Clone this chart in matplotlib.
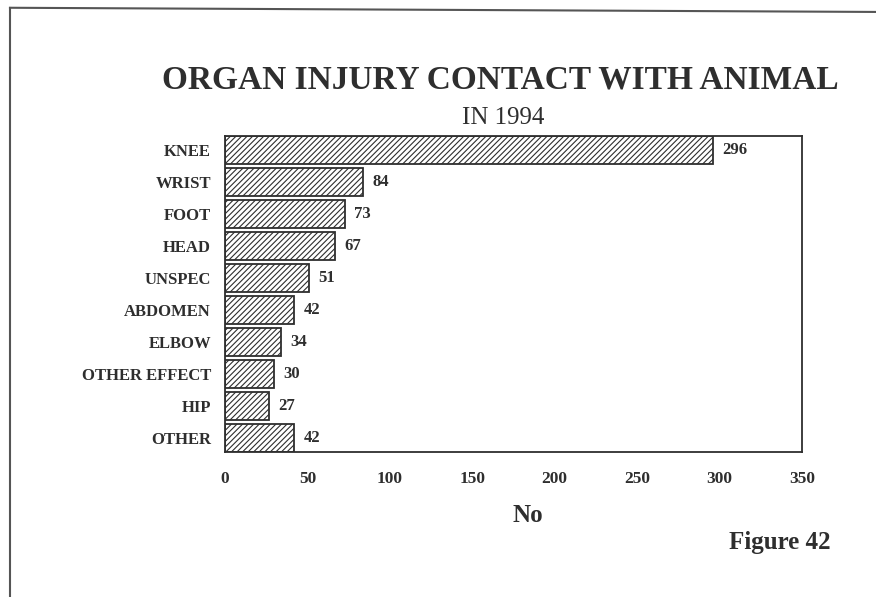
import matplotlib.pyplot as plt
import matplotlib as mpl

# injuries by organ, 1994
organs = ["KNEE", "WRIST", "FOOT", "HEAD", "UNSPEC", "ABDOMEN",
          "ELBOW", "OTHER EFFECT", "HIP", "OTHER"]
counts = [296, 84, 73, 67, 51, 42, 34, 30, 27, 42]
xticks = [0, 50, 100, 150, 200, 250, 300, 350]

ink = "#2e2e2e"
mpl.rcParams['font.family'] = 'Liberation Serif'
mpl.rcParams['hatch.linewidth'] = 0.8
mpl.rcParams['hatch.color'] = ink

fig = plt.figure(figsize=(8.76, 5.97), dpi=100)
ax = fig.add_axes([0.2568, 0.2429, 0.6587, 0.5293])

ypos = list(range(len(organs)))
ax.barh(ypos, counts, height=0.88, color="white", edgecolor=ink,
        linewidth=1.3, hatch="//////")
for y, v in zip(ypos, counts):
    ax.text(v + 5.5, y, str(v), va="center", ha="left", fontsize=12,
            fontweight="bold", color=ink)

ax.set_ylim(len(organs) - 0.55, -0.45)
ax.set_xlim(0, 350)
ax.set_yticks(ypos)
ax.set_yticklabels(organs, fontsize=12, fontweight="bold", color=ink)
ax.set_xticks(xticks)
ax.set_xticklabels([str(t) for t in xticks], fontsize=12.5, fontweight="bold",
                   color=ink)
ax.tick_params(axis="both", length=0)
ax.tick_params(axis="y", pad=10)
ax.tick_params(axis="x", pad=14)
for s in ax.spines.values():
    s.set_color(ink)
    s.set_linewidth(1.3)

fig.text(0.603, 0.137, "No", ha="center", va="center", fontsize=18,
         fontweight="bold", color=ink)
fig.text(0.571, 0.866, "ORGAN INJURY CONTACT WITH ANIMAL", ha="center",
         va="center", fontsize=24, fontweight="bold", color=ink)
fig.text(0.574, 0.803, "IN 1994", ha="center", va="center", fontsize=18,
         color=ink)
fig.text(0.89, 0.092, "Figure 42", ha="center", va="center", fontsize=18,
         fontweight="bold", color=ink)

# page frame lines from the scanned sheet
fig.add_artist(plt.Line2D([0.0114, 1.0], [0.987, 0.98], color="#555555",
                          linewidth=1.5))
fig.add_artist(plt.Line2D([0.0114, 0.0114], [0.0, 0.987], color="#555555",
                          linewidth=1.5))

fig.savefig("out.png", dpi=100)
